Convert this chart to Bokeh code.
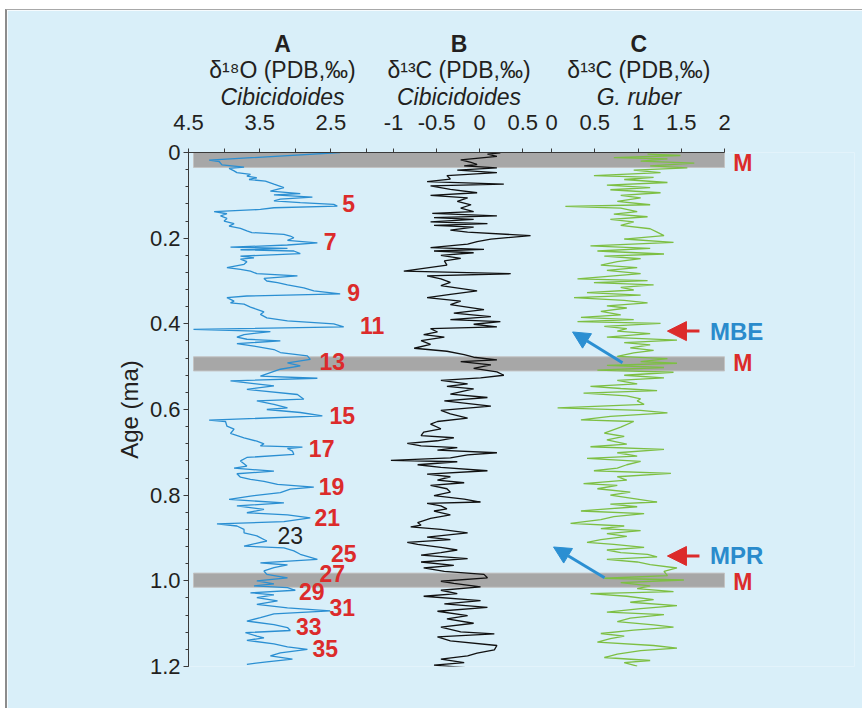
from bokeh.plotting import figure
from bokeh.models import Range1d, LinearAxis, FixedTicker, Arrow, NormalHead
from bokeh.core.properties import value
from bokeh.embed import file_html
from bokeh.resources import INLINE

# ---------------- data ----------------
# Track A: benthic d18O (Cibicidoides), per mil PDB
age_A = [0.000, 0.018, 0.021, 0.029, 0.034, 0.037, 0.043, 0.047, 0.051, 0.055,
         0.059, 0.063, 0.067, 0.074, 0.082, 0.090, 0.096, 0.099, 0.104, 0.109,
         0.113, 0.117, 0.121, 0.125, 0.129, 0.133, 0.138, 0.143, 0.148, 0.154,
         0.160, 0.166, 0.172, 0.177, 0.183, 0.187, 0.191, 0.195, 0.199, 0.205,
         0.211, 0.216, 0.221, 0.224, 0.227, 0.230, 0.236, 0.242, 0.246, 0.249,
         0.255, 0.261, 0.269, 0.273, 0.277, 0.283, 0.288, 0.294, 0.300, 0.304,
         0.309, 0.316, 0.323, 0.330, 0.335, 0.339, 0.347, 0.351, 0.354, 0.361,
         0.366, 0.372, 0.378, 0.386, 0.393, 0.400, 0.407, 0.413, 0.418, 0.425,
         0.431, 0.436, 0.440, 0.446, 0.452, 0.460, 0.467, 0.475, 0.483, 0.491,
         0.498, 0.506, 0.514, 0.522, 0.527, 0.533, 0.545, 0.553, 0.565, 0.576,
         0.580, 0.588, 0.596, 0.600, 0.607, 0.615, 0.625, 0.628, 0.639, 0.646,
         0.656, 0.666, 0.674, 0.680, 0.685, 0.688, 0.691, 0.697, 0.705, 0.712,
         0.720, 0.732, 0.737, 0.744, 0.750, 0.758, 0.763, 0.768, 0.775, 0.781,
         0.786, 0.794, 0.802, 0.810, 0.818, 0.825, 0.833, 0.841, 0.846, 0.853,
         0.862, 0.867, 0.872, 0.880, 0.888, 0.895, 0.907, 0.919, 0.923, 0.930,
         0.938, 0.950, 0.958, 0.963, 0.969, 0.977, 0.985, 0.993, 1.000, 1.007,
         1.012, 1.016, 1.022, 1.028, 1.033, 1.039, 1.047, 1.055, 1.063, 1.070,
         1.077, 1.086, 1.094, 1.102, 1.109, 1.116, 1.121, 1.129, 1.133, 1.139,
         1.147, 1.154, 1.160, 1.168, 1.175, 1.183, 1.189, 1.195]
d18O_A = [2.37, 4.21, 4.07, 4.03, 3.72, 3.93, 3.86, 3.82, 3.63, 3.68,
          3.54, 3.65, 3.42, 3.30, 3.16, 3.35, 2.93, 3.30, 2.76, 3.21,
          3.30, 2.93, 2.46, 2.41, 3.30, 3.49, 4.14, 3.96, 4.05, 3.96,
          4.00, 3.86, 3.93, 3.77, 3.68, 3.61, 3.16, 3.07, 3.02, 3.11,
          2.69, 3.11, 3.91, 3.11, 3.77, 3.02, 2.93, 3.77, 3.58, 3.77,
          3.68, 3.72, 3.96, 3.77, 3.63, 3.54, 2.97, 3.44, 3.40, 3.25,
          3.11, 2.88, 2.74, 2.37, 3.68, 3.96, 3.86, 3.91, 3.72, 3.63,
          3.54, 3.44, 3.49, 3.40, 3.11, 2.46, 2.32, 4.43, 3.35, 3.72,
          3.82, 3.68, 3.21, 3.82, 3.58, 3.30, 3.21, 2.83, 2.79, 3.11,
          2.93, 3.21, 3.35, 3.49, 2.69, 3.91, 3.30, 3.68, 2.97, 2.88,
          3.54, 3.30, 3.11, 3.40, 2.93, 2.62, 4.21, 3.98, 3.96, 3.86,
          3.91, 3.72, 3.54, 3.44, 3.49, 2.90, 3.11, 3.04, 3.02, 3.68,
          3.77, 3.68, 3.86, 3.30, 3.82, 3.77, 3.63, 3.44, 3.25, 2.74,
          3.07, 3.21, 3.63, 3.93, 3.16, 3.82, 3.44, 3.68, 3.11, 2.79,
          3.16, 4.10, 3.82, 3.72, 3.72, 3.54, 3.40, 3.72, 3.16, 3.02,
          2.93, 2.69, 3.49, 3.11, 3.30, 3.44, 3.40, 3.11, 3.54, 3.30,
          3.58, 3.11, 3.00, 3.63, 3.30, 3.54, 3.25, 3.54, 3.11, 2.51,
          3.30, 3.49, 3.68, 3.30, 3.11, 3.07, 3.70, 3.54, 3.44, 3.68,
          3.30, 3.11, 2.83, 3.21, 3.35, 3.04, 3.40, 3.68]

# Track B: benthic d13C (Cibicidoides)
age_B = [0.001, 0.004, 0.009, 0.017, 0.023, 0.028, 0.031, 0.036, 0.041, 0.047,
         0.054, 0.062, 0.068, 0.074, 0.078, 0.086, 0.094, 0.100, 0.106, 0.114,
         0.122, 0.130, 0.138, 0.142, 0.148, 0.152, 0.156, 0.162, 0.166, 0.170,
         0.174, 0.181, 0.186, 0.194, 0.202, 0.208, 0.214, 0.222, 0.226, 0.230,
         0.234, 0.240, 0.247, 0.253, 0.263, 0.277, 0.283, 0.288, 0.295, 0.303,
         0.311, 0.323, 0.331, 0.339, 0.347, 0.355, 0.367, 0.375, 0.383, 0.390,
         0.395, 0.401, 0.407, 0.411, 0.419, 0.425, 0.431, 0.439, 0.448, 0.457,
         0.464, 0.472, 0.478, 0.484, 0.488, 0.496, 0.504, 0.512, 0.520, 0.526,
         0.532, 0.540, 0.546, 0.552, 0.564, 0.572, 0.580, 0.592, 0.602, 0.610,
         0.620, 0.628, 0.634, 0.645, 0.653, 0.661, 0.666, 0.673, 0.679, 0.685,
         0.689, 0.695, 0.701, 0.706, 0.713, 0.719, 0.722, 0.729, 0.735, 0.743,
         0.751, 0.757, 0.765, 0.771, 0.777, 0.785, 0.793, 0.801, 0.809, 0.816,
         0.819, 0.825, 0.832, 0.837, 0.846, 0.854, 0.864, 0.870, 0.874, 0.880,
         0.888, 0.898, 0.904, 0.910, 0.915, 0.922, 0.928, 0.934, 0.940, 0.948,
         0.956, 0.964, 0.970, 0.978, 0.985, 0.993, 1.001, 1.006, 1.014, 1.022,
         1.030, 1.036, 1.046, 1.054, 1.062, 1.071, 1.081, 1.089, 1.099, 1.108,
         1.119, 1.124, 1.131, 1.140, 1.151, 1.161, 1.169, 1.175, 1.183, 1.191,
         1.197, 1.203, 1.207]
d13C_B = [0.24, 0.09, 0.20, -0.22, -0.10, -0.03, -0.18, 0.20, -0.26, 0.20,
          -0.38, -0.34, -0.61, 0.28, -0.57, -0.34, -0.03, -0.57, -0.14, -0.26,
          -0.10, -0.22, -0.07, -0.55, 0.20, -0.53, -0.07, -0.57, 0.09, -0.53,
          -0.07, -0.34, -0.14, 0.59, 0.13, -0.03, -0.14, -0.57, 0.05, -0.53,
          -0.07, -0.45, -0.22, -0.41, -0.38, -0.88, 0.36, -0.61, -0.45, -0.34,
          -0.45, -0.03, -0.34, -0.61, -0.22, -0.34, 0.05, -0.30, 0.13, -0.34,
          0.24, -0.07, 0.20, -0.57, -0.49, -0.65, -0.41, -0.68, -0.57, -0.76,
          -0.38, -0.18, -0.07, 0.20, -0.22, 0.13, -0.07, 0.20, 0.28, 0.01,
          -0.45, -0.14, -0.38, -0.07, -0.34, 0.09, -0.41, 0.13, -0.45, -0.34,
          -0.14, -0.49, -0.57, -0.45, -0.65, -0.68, -0.30, -0.49, -0.84, -0.68,
          -0.26, -0.49, 0.20, -0.14, -0.34, -1.03, -0.26, -0.72, -0.45, 0.09,
          -0.61, -0.34, -0.49, -0.18, -0.57, -0.38, -0.34, -0.53, -0.18, 0.01,
          -0.61, -0.45, -0.38, -0.53, -0.34, -0.57, -0.72, -0.68, -0.80, -0.45,
          -0.14, -0.61, -0.34, -0.84, -0.72, -0.45, -0.26, -0.45, -0.68, -0.14,
          -0.68, -0.30, -0.65, -0.41, 0.05, 0.09, -0.45, -0.30, 0.01, -0.45,
          -0.26, -0.65, 0.01, -0.41, 0.09, -0.49, -0.14, -0.38, -0.07, -0.45,
          -0.22, 0.17, -0.49, -0.34, 0.20, 0.17, -0.03, -0.14, -0.45, -0.18,
          -0.53, -0.14, -0.30]

# Track C: planktonic d13C (G. ruber)
age_C = [0.004, 0.007, 0.012, 0.015, 0.020, 0.025, 0.031, 0.036, 0.041, 0.047,
         0.054, 0.058, 0.063, 0.070, 0.076, 0.082, 0.087, 0.094, 0.100, 0.106,
         0.114, 0.122, 0.126, 0.130, 0.138, 0.144, 0.150, 0.156, 0.162, 0.170,
         0.178, 0.186, 0.194, 0.202, 0.210, 0.218, 0.224, 0.230, 0.237, 0.242,
         0.248, 0.255, 0.263, 0.269, 0.275, 0.283, 0.288, 0.295, 0.299, 0.304,
         0.309, 0.315, 0.321, 0.327, 0.333, 0.339, 0.345, 0.351, 0.358, 0.363,
         0.371, 0.379, 0.385, 0.390, 0.395, 0.399, 0.406, 0.411, 0.417, 0.423,
         0.431, 0.438, 0.444, 0.449, 0.456, 0.462, 0.468, 0.476, 0.481, 0.488,
         0.492, 0.497, 0.502, 0.508, 0.513, 0.520, 0.526, 0.532, 0.540, 0.546,
         0.551, 0.556, 0.562, 0.568, 0.575, 0.580, 0.588, 0.596, 0.602, 0.608,
         0.616, 0.624, 0.628, 0.641, 0.655, 0.663, 0.671, 0.681, 0.687, 0.693,
         0.701, 0.709, 0.714, 0.721, 0.729, 0.737, 0.743, 0.749, 0.757, 0.765,
         0.773, 0.777, 0.785, 0.793, 0.800, 0.809, 0.816, 0.821, 0.827, 0.833,
         0.837, 0.843, 0.850, 0.857, 0.866, 0.872, 0.878, 0.883, 0.890, 0.896,
         0.904, 0.910, 0.915, 0.922, 0.928, 0.934, 0.938, 0.944, 0.950, 0.956,
         0.962, 0.970, 0.978, 0.988, 0.994, 0.998, 1.004, 1.012, 1.018, 1.025,
         1.030, 1.036, 1.044, 1.050, 1.058, 1.065, 1.073, 1.079, 1.087, 1.095,
         1.103, 1.108, 1.115, 1.123, 1.129, 1.135, 1.143, 1.151, 1.157, 1.163,
         1.171, 1.179, 1.186, 1.191, 1.199]
d13C_C = [1.11, 1.49, 0.72, 1.34, 1.03, 1.65, 1.14, 1.57, 0.95, 1.26,
          0.49, 1.18, 0.84, 1.34, 0.64, 1.14, 0.68, 1.26, 0.80, 1.03,
          0.76, 1.14, 0.16, 0.80, 0.99, 0.72, 1.11, 0.68, 0.95, 0.80,
          1.14, 1.22, 1.30, 0.84, 1.41, 0.45, 1.14, 0.53, 1.30, 0.61,
          1.03, 0.76, 0.57, 0.99, 0.64, 1.03, 0.72, 0.30, 1.11, 0.49,
          1.18, 0.80, 0.95, 0.41, 1.03, 0.26, 0.84, 1.11, 0.64, 0.87,
          0.57, 0.80, 0.34, 0.95, 0.30, 1.26, 0.61, 0.87, 0.76, 1.14,
          0.64, 1.45, 0.84, 1.14, 0.91, 1.18, 0.95, 0.76, 1.34, 1.03,
          1.45, 0.64, 1.30, 0.53, 1.41, 0.84, 1.30, 0.76, 0.99, 0.45,
          0.80, 1.22, 0.37, 0.87, 1.03, 0.99, 1.07, 0.07, 1.03, 1.34,
          0.68, 0.34, 0.95, 0.80, 0.61, 0.84, 0.64, 0.87, 0.45, 1.30,
          0.76, 0.99, 0.41, 1.03, 0.87, 0.76, 0.49, 1.38, 0.76, 0.87,
          0.37, 0.76, 0.53, 0.91, 0.68, 0.99, 1.22, 0.68, 0.99, 0.57,
          0.34, 1.07, 0.72, 0.57, 0.22, 0.84, 0.57, 1.03, 0.64, 0.87,
          0.57, 0.41, 0.72, 1.07, 0.64, 0.80, 1.11, 1.22, 0.64, 0.99,
          1.14, 1.45, 1.30, 1.34, 0.61, 1.53, 0.80, 1.14, 0.99, 1.41,
          0.45, 0.87, 1.18, 0.91, 1.45, 1.03, 0.64, 1.30, 0.91, 0.76,
          1.18, 1.41, 0.95, 0.57, 0.84, 0.68, 0.53, 1.18, 1.45, 1.03,
          0.76, 0.61, 1.14, 0.84, 0.99]

# grey "M" bands (ages, ma)
m_band_top = [0.000, 0.477, 0.982]
m_band_bottom = [0.035, 0.510, 1.015]
m_label_age = [0.024, 0.491, 1.003]

# marine isotope stage numbers (positioned in d18O units / age)
stage_labels = ["5", "7", "9", "11", "13", "15", "17", "19", "21",
                "25", "27", "29", "31", "33", "35"]
stage_age = [0.119, 0.207, 0.328, 0.403, 0.489, 0.615, 0.690, 0.779, 0.851,
             0.937, 0.982, 1.024, 1.063, 1.106, 1.157]
stage_d18O = [2.25, 2.51, 2.18, 1.92, 2.48, 2.34, 2.63, 2.49, 2.55,
              2.32, 2.48, 2.77, 2.34, 2.81, 2.58]
stage23_label = ["23"]
stage23_age = [0.895]
stage23_d18O = [3.07]

# events
event_labels = ["MBE", "MPR"]
event_age = [0.417, 0.942]

# tick values and labels
A_ticks = [4.5, 4.0, 3.5, 3.0, 2.5, 2.0]
A_tick_labels = ["4.5", "", "3.5", "", "2.5", ""]
B_ticks = [-1.0, -0.5, 0.0, 0.5]
B_tick_labels = ["-1", "-0.5", "0", "0.5"]
C_ticks = [0.0, 0.5, 1.0, 1.5, 2.0]
C_tick_labels = ["0", "0.5", "1", "1.5", "2"]
age_ticks = [0.0, 0.2, 0.4, 0.6, 0.8, 1.0, 1.2]
age_tick_labels = ["0", "0.2", "0.4", "0.6", "0.8", "1.0", "1.2"]

# column headings
head_letters = ["A", "B", "C"]
head_quantity = ["δ¹⁸O (PDB,‰)", "δ¹³C (PDB,‰)", "δ¹³C (PDB,‰)"]
head_taxon = ["Cibicidoides", "Cibicidoides", "G. ruber"]

# ---------------- styling / layout ----------------
BG = "#d9eff9"
FONT = "Liberation Sans"
RED = "#dc2b2b"
BLUE = "#2b8fd2"
BLUE_TXT = "#2a8bcc"
GREEN = "#7dbf43"
DARK = "#231f20"
AXC = "#3a3a3a"

FRAME_W = 666          # frame width in px (tracks occupy the first 536 px)
TRACK_W = 536
rA = Range1d(4.5, 4.5 - FRAME_W / 71.2)
rB = Range1d(-3.378, -3.378 + FRAME_W / 86.2)
rC = Range1d(-4.197, -4.197 + FRAME_W / 86.5)


def to_px(rng, v):
    return round((v - rng.start) / (rng.end - rng.start) * FRAME_W, 3)


p = figure(width=857, height=699, output_backend="svg", toolbar_location=None,
           x_range=Range1d(0, FRAME_W), y_range=Range1d(1.2, 0),
           x_axis_location=None, y_axis_location=None,
           min_border_left=181, min_border_right=10,
           min_border_top=142, min_border_bottom=43,
           background_fill_color=BG, border_fill_color=BG,
           outline_line_color=None)
p.styles = {"margin-left": "5px", "margin-top": "9px",
            "border-left": "2px solid #8c8c8c", "border-top": "1px solid #a8a8a8"}
p.extra_x_ranges = {"A": rA, "B": rB, "C": rC}
p.xgrid.grid_line_color = None
p.ygrid.grid_line_color = None

# grey bands
p.quad(left=5, right=TRACK_W, top=m_band_top, bottom=m_band_bottom,
       fill_color="#a7a7a7", line_color="#c3c3c3", line_width=1)

# curves
p.line(d18O_A, age_A, x_range_name="A", line_color=BLUE, line_width=1.3)
p.line(d13C_B, age_B, x_range_name="B", line_color="#111111", line_width=1.3)
p.line(d13C_C, age_C, x_range_name="C", line_color=GREEN, line_width=1.3)

# stage numbers
p.text(x=stage_d18O, y=stage_age, text=stage_labels, x_range_name="A",
       text_font=value(FONT), text_font_style="bold", text_font_size="23px",
       text_color=RED, text_align="center", text_baseline="middle")
p.text(x=stage23_d18O, y=stage23_age, text=stage23_label, x_range_name="A",
       text_font=value(FONT), text_font_style="normal", text_font_size="23px",
       text_color=DARK, text_align="center", text_baseline="middle")

# M labels, event labels
p.text(x=[2.21] * len(m_label_age), y=m_label_age, text=["M"] * len(m_label_age),
       x_range_name="C", text_font=value(FONT), text_font_style="bold",
       text_font_size="23px", text_color=RED, text_align="center", text_baseline="middle")
p.text(x=[2.14] * len(event_age), y=event_age, text=event_labels,
       x_range_name="C", text_font=value(FONT), text_font_style="bold",
       text_font_size="24px", text_color=BLUE_TXT, text_align="center",
       text_baseline="middle")

for a in event_age:
    p.add_layout(Arrow(x_start=1.71, y_start=a, x_end=1.34, y_end=a, x_range_name="C",
                       line_color=RED, line_width=3,
                       end=NormalHead(size=19, fill_color=RED, line_color=RED)))

blue_arrows = [(0.82, 0.491, 0.243, 0.419), (0.613, 0.993, 0.023, 0.921)]
for xs, ys, xe, ye in blue_arrows:
    p.add_layout(Arrow(x_start=xs, y_start=ys, x_end=xe, y_end=ye, x_range_name="C",
                       line_color=BLUE, line_width=3,
                       end=NormalHead(size=17, fill_color=BLUE, line_color=BLUE)))

# top axis (three scales on one line)
top_ticks, top_over = [], {}
for rng, vals, labs in [(rA, A_ticks, A_tick_labels), (rB, B_ticks, B_tick_labels),
                        (rC, C_ticks, C_tick_labels)]:
    for v, lab in zip(vals, labs):
        t = to_px(rng, v)
        top_ticks.append(t)
        top_over[t] = lab
top_ax = LinearAxis(ticker=FixedTicker(ticks=top_ticks), major_label_overrides=top_over,
                    bounds=(0, TRACK_W),
                    axis_line_color=AXC, major_tick_line_color=AXC,
                    major_tick_in=0, major_tick_out=4, minor_tick_line_color=None,
                    major_label_standoff=19, major_label_text_font=FONT,
                    major_label_text_font_size="22px", major_label_text_color=DARK)
p.add_layout(top_ax, "above")

# column headings: one row of labels per heading line, stacked above the axis
head_x = [to_px(rA, 3.18), to_px(rB, -0.24), to_px(rC, 1.01)]
for labels, style, gap in [(head_taxon, "italic", 2), (head_quantity, "normal", -2),
                           (head_letters, "bold", -3)]:
    ax = LinearAxis(ticker=FixedTicker(ticks=head_x),
                    major_label_overrides=dict(zip(head_x, labels)),
                    axis_line_color=None, major_tick_line_color=None,
                    minor_tick_line_color=None, major_tick_in=0, major_tick_out=0,
                    major_label_standoff=gap, major_label_text_font=FONT,
                    major_label_text_font_style=style,
                    major_label_text_font_size="23px", major_label_text_color=DARK)
    p.add_layout(ax, "above")

# left axis
minor = [round(i * 0.04, 2) for i in range(31)]
y_ax = LinearAxis(ticker=FixedTicker(ticks=age_ticks, minor_ticks=minor),
                  major_label_overrides=dict(zip(age_ticks, age_tick_labels)),
                  axis_label="Age (ma)", axis_label_text_font=FONT,
                  axis_label_text_font_size="24px", axis_label_text_font_style="normal",
                  axis_label_text_color=DARK, axis_label_standoff=4,
                  axis_line_color=AXC, major_tick_line_color=AXC,
                  minor_tick_line_color=AXC,
                  major_tick_in=0, major_tick_out=5, minor_tick_in=0, minor_tick_out=3,
                  major_label_standoff=3, major_label_text_font=FONT,
                  major_label_text_font_size="22px", major_label_text_color=DARK)
p.add_layout(y_ax, "left")

open("out.html", "w").write(file_html(p, INLINE))
